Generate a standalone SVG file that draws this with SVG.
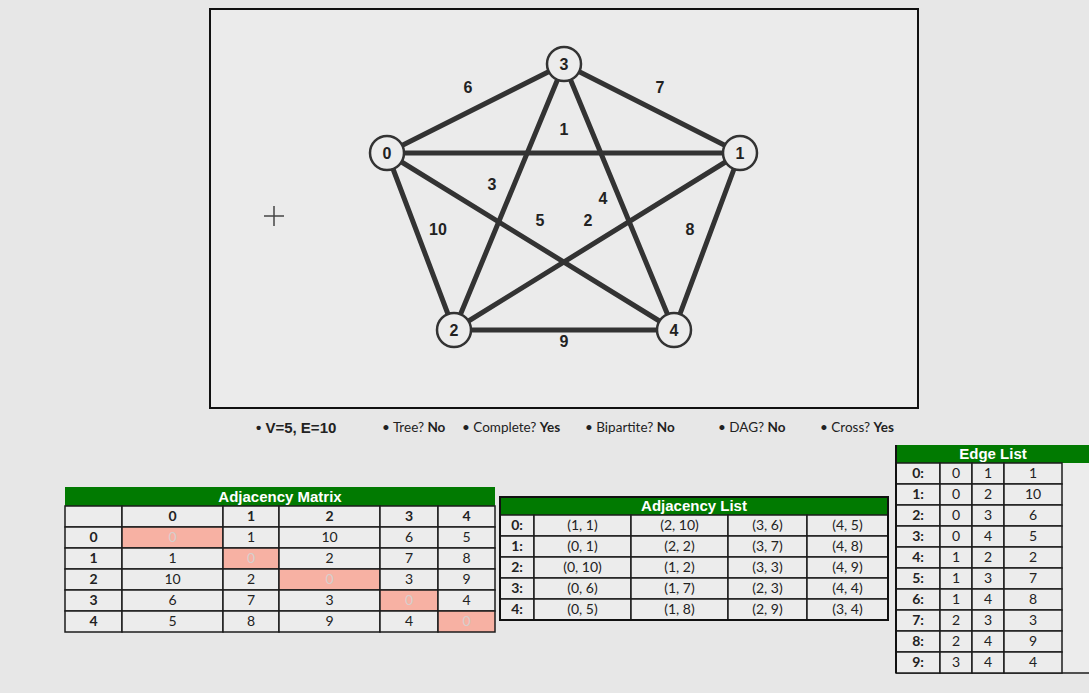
<svg xmlns="http://www.w3.org/2000/svg" width="1089" height="693" viewBox="0 0 1089 693">
<style>
.bg{fill:#e7e7e7}
.edge{stroke:#333;stroke-width:5;stroke-linecap:round}
.node circle{fill:#ececec;stroke:#333;stroke-width:2.5}
.nl{font-family:"Liberation Sans",Arial,sans-serif;font-weight:bold;font-size:16px;fill:#222;text-anchor:middle}
.el{font-family:"Liberation Sans",Arial,sans-serif;font-weight:bold;font-size:16px;fill:#222;text-anchor:middle}
.st{font-family:Lato,"Open Sans",sans-serif;font-size:13.5px;fill:#222}
.stb{font-weight:bold}
.big{font-family:"Liberation Sans",Arial,sans-serif;font-size:15px;font-weight:bold;fill:#222}
.cell{fill:#ececec;stroke:#1c1c1c;stroke-width:1.5}
.diag{fill:#f7b1a3;stroke:#1c1c1c;stroke-width:1.5}
.hdr{fill:#017a01}
.ht{font-family:"Liberation Sans",Arial,sans-serif;font-weight:bold;font-size:15px;fill:#fff;text-anchor:middle}
.ct{font-family:Lato,"Open Sans",sans-serif;font-size:14px;fill:#222;text-anchor:middle}
.cb{font-family:Lato,"Open Sans",sans-serif;font-size:14px;font-weight:bold;fill:#222;text-anchor:middle}
.dz{font-family:Lato,"Open Sans",sans-serif;font-size:14px;fill:#d6cfcd;text-anchor:middle}
.outer{fill:none;stroke:#111;stroke-width:2}
</style>
<rect class="bg" x="0" y="0" width="1089" height="693"/>
<rect x="210" y="9" width="708" height="399" fill="#ebebeb" stroke="#111" stroke-width="2"/>
<g id="crosshair" stroke="#444" stroke-width="1.5">
<line x1="264" y1="216" x2="284" y2="216"/><line x1="274" y1="206" x2="274" y2="226"/>
</g>
<g id="connectors">
<line class="edge" x1="387" y1="153" x2="564" y2="64"/>
<line class="edge" x1="564" y1="64" x2="740" y2="153"/>
<line class="edge" x1="387" y1="153" x2="740" y2="153"/>
<line class="edge" x1="387" y1="153" x2="454" y2="330"/>
<line class="edge" x1="387" y1="153" x2="674" y2="330"/>
<line class="edge" x1="564" y1="64" x2="454" y2="330"/>
<line class="edge" x1="564" y1="64" x2="674" y2="330"/>
<line class="edge" x1="740" y1="153" x2="454" y2="330"/>
<line class="edge" x1="740" y1="153" x2="674" y2="330"/>
<line class="edge" x1="454" y1="330" x2="674" y2="330"/>
<text class="el" x="468" y="93">6</text>
<text class="el" x="660" y="93">7</text>
<text class="el" x="564" y="135">1</text>
<text class="el" x="492" y="190">3</text>
<text class="el" x="603" y="204">4</text>
<text class="el" x="540" y="226">5</text>
<text class="el" x="588" y="226">2</text>
<text class="el" x="438" y="235">10</text>
<text class="el" x="690" y="235">8</text>
<text class="el" x="564" y="347">9</text>
</g>
<g id="node0" class="node"><circle cx="387" cy="153" r="17"/><text class="nl" x="387" y="159">0</text></g>
<g id="node1" class="node"><circle cx="740" cy="153" r="17"/><text class="nl" x="740" y="159">1</text></g>
<g id="node2" class="node"><circle cx="454" cy="330" r="17"/><text class="nl" x="454" y="336">2</text></g>
<g id="node3" class="node"><circle cx="564" cy="64" r="17"/><text class="nl" x="564" y="70">3</text></g>
<g id="node4" class="node"><circle cx="674" cy="330" r="17"/><text class="nl" x="674" y="336">4</text></g>
<g id="stats">
<text class="big" x="256" y="433">• V=5, E=10</text>
<text class="st" x="382" y="432">• Tree? <tspan class="stb">No</tspan></text>
<text class="st" x="462" y="432">• Complete? <tspan class="stb">Yes</tspan></text>
<text class="st" x="585" y="432">• Bipartite? <tspan class="stb">No</tspan></text>
<text class="st" x="718" y="432">• DAG? <tspan class="stb">No</tspan></text>
<text class="st" x="820" y="432">• Cross? <tspan class="stb">Yes</tspan></text>
</g>
<g id="adjacency-matrix">
<rect class="hdr" x="65" y="487" width="430" height="19"/>
<text class="ht" x="280" y="502">Adjacency Matrix</text>
<g>
<rect class="cell" x="65" y="506" width="57" height="21"/><rect class="cell" x="122" y="506" width="101" height="21"/><rect class="cell" x="223" y="506" width="56" height="21"/><rect class="cell" x="279" y="506" width="101" height="21"/><rect class="cell" x="380" y="506" width="58" height="21"/><rect class="cell" x="438" y="506" width="57" height="21"/>
<text class="cb" x="172.5" y="521">0</text><text class="cb" x="251" y="521">1</text><text class="cb" x="329.5" y="521">2</text><text class="cb" x="409" y="521">3</text><text class="cb" x="466.5" y="521">4</text>
</g>
<g>
<rect class="cell" x="65" y="527" width="57" height="21"/><rect class="diag" x="122" y="527" width="101" height="21"/><rect class="cell" x="223" y="527" width="56" height="21"/><rect class="cell" x="279" y="527" width="101" height="21"/><rect class="cell" x="380" y="527" width="58" height="21"/><rect class="cell" x="438" y="527" width="57" height="21"/>
<text class="cb" x="93.5" y="542">0</text><text class="dz" x="172.5" y="542">0</text><text class="ct" x="251" y="542">1</text><text class="ct" x="329.5" y="542">10</text><text class="ct" x="409" y="542">6</text><text class="ct" x="466.5" y="542">5</text>
</g>
<g>
<rect class="cell" x="65" y="548" width="57" height="21"/><rect class="cell" x="122" y="548" width="101" height="21"/><rect class="diag" x="223" y="548" width="56" height="21"/><rect class="cell" x="279" y="548" width="101" height="21"/><rect class="cell" x="380" y="548" width="58" height="21"/><rect class="cell" x="438" y="548" width="57" height="21"/>
<text class="cb" x="93.5" y="563">1</text><text class="ct" x="172.5" y="563">1</text><text class="dz" x="251" y="563">0</text><text class="ct" x="329.5" y="563">2</text><text class="ct" x="409" y="563">7</text><text class="ct" x="466.5" y="563">8</text>
</g>
<g>
<rect class="cell" x="65" y="569" width="57" height="21"/><rect class="cell" x="122" y="569" width="101" height="21"/><rect class="cell" x="223" y="569" width="56" height="21"/><rect class="diag" x="279" y="569" width="101" height="21"/><rect class="cell" x="380" y="569" width="58" height="21"/><rect class="cell" x="438" y="569" width="57" height="21"/>
<text class="cb" x="93.5" y="584">2</text><text class="ct" x="172.5" y="584">10</text><text class="ct" x="251" y="584">2</text><text class="dz" x="329.5" y="584">0</text><text class="ct" x="409" y="584">3</text><text class="ct" x="466.5" y="584">9</text>
</g>
<g>
<rect class="cell" x="65" y="590" width="57" height="21"/><rect class="cell" x="122" y="590" width="101" height="21"/><rect class="cell" x="223" y="590" width="56" height="21"/><rect class="cell" x="279" y="590" width="101" height="21"/><rect class="diag" x="380" y="590" width="58" height="21"/><rect class="cell" x="438" y="590" width="57" height="21"/>
<text class="cb" x="93.5" y="605">3</text><text class="ct" x="172.5" y="605">6</text><text class="ct" x="251" y="605">7</text><text class="ct" x="329.5" y="605">3</text><text class="dz" x="409" y="605">0</text><text class="ct" x="466.5" y="605">4</text>
</g>
<g>
<rect class="cell" x="65" y="611" width="57" height="21"/><rect class="cell" x="122" y="611" width="101" height="21"/><rect class="cell" x="223" y="611" width="56" height="21"/><rect class="cell" x="279" y="611" width="101" height="21"/><rect class="cell" x="380" y="611" width="58" height="21"/><rect class="diag" x="438" y="611" width="57" height="21"/>
<text class="cb" x="93.5" y="626">4</text><text class="ct" x="172.5" y="626">5</text><text class="ct" x="251" y="626">8</text><text class="ct" x="329.5" y="626">9</text><text class="ct" x="409" y="626">4</text><text class="dz" x="466.5" y="626">0</text>
</g>
</g>
<g id="adjacency-list">
<rect class="hdr" x="500" y="497" width="388" height="18"/>
<text class="ht" x="694" y="511">Adjacency List</text>
<g>
<rect class="cell" x="500" y="515" width="34" height="21"/><rect class="cell" x="534" y="515" width="97" height="21"/><rect class="cell" x="631" y="515" width="97" height="21"/><rect class="cell" x="728" y="515" width="79" height="21"/><rect class="cell" x="807" y="515" width="81" height="21"/>
<text class="cb" x="517" y="530">0:</text><text class="ct" x="582.5" y="530">(1, 1)</text><text class="ct" x="679.5" y="530">(2, 10)</text><text class="ct" x="767.5" y="530">(3, 6)</text><text class="ct" x="847.5" y="530">(4, 5)</text>
</g>
<g>
<rect class="cell" x="500" y="536" width="34" height="21"/><rect class="cell" x="534" y="536" width="97" height="21"/><rect class="cell" x="631" y="536" width="97" height="21"/><rect class="cell" x="728" y="536" width="79" height="21"/><rect class="cell" x="807" y="536" width="81" height="21"/>
<text class="cb" x="517" y="551">1:</text><text class="ct" x="582.5" y="551">(0, 1)</text><text class="ct" x="679.5" y="551">(2, 2)</text><text class="ct" x="767.5" y="551">(3, 7)</text><text class="ct" x="847.5" y="551">(4, 8)</text>
</g>
<g>
<rect class="cell" x="500" y="557" width="34" height="21"/><rect class="cell" x="534" y="557" width="97" height="21"/><rect class="cell" x="631" y="557" width="97" height="21"/><rect class="cell" x="728" y="557" width="79" height="21"/><rect class="cell" x="807" y="557" width="81" height="21"/>
<text class="cb" x="517" y="572">2:</text><text class="ct" x="582.5" y="572">(0, 10)</text><text class="ct" x="679.5" y="572">(1, 2)</text><text class="ct" x="767.5" y="572">(3, 3)</text><text class="ct" x="847.5" y="572">(4, 9)</text>
</g>
<g>
<rect class="cell" x="500" y="578" width="34" height="21"/><rect class="cell" x="534" y="578" width="97" height="21"/><rect class="cell" x="631" y="578" width="97" height="21"/><rect class="cell" x="728" y="578" width="79" height="21"/><rect class="cell" x="807" y="578" width="81" height="21"/>
<text class="cb" x="517" y="593">3:</text><text class="ct" x="582.5" y="593">(0, 6)</text><text class="ct" x="679.5" y="593">(1, 7)</text><text class="ct" x="767.5" y="593">(2, 3)</text><text class="ct" x="847.5" y="593">(4, 4)</text>
</g>
<g>
<rect class="cell" x="500" y="599" width="34" height="21"/><rect class="cell" x="534" y="599" width="97" height="21"/><rect class="cell" x="631" y="599" width="97" height="21"/><rect class="cell" x="728" y="599" width="79" height="21"/><rect class="cell" x="807" y="599" width="81" height="21"/>
<text class="cb" x="517" y="614">4:</text><text class="ct" x="582.5" y="614">(0, 5)</text><text class="ct" x="679.5" y="614">(1, 8)</text><text class="ct" x="767.5" y="614">(2, 9)</text><text class="ct" x="847.5" y="614">(3, 4)</text>
</g>
<rect class="outer" x="500" y="497" width="388" height="123"/>
</g>
<g id="edge-list">
<rect class="hdr" x="896" y="445" width="193" height="18"/>
<text class="ht" x="993" y="459">Edge List</text>
<rect x="1062" y="463" width="27" height="210" fill="#ececec"/>
<line x1="896" y1="673" x2="1089" y2="673" stroke="#1c1c1c" stroke-width="1.5"/>
<g><rect class="cell" x="896" y="463" width="44" height="21"/><rect class="cell" x="940" y="463" width="32" height="21"/><rect class="cell" x="972" y="463" width="32" height="21"/><rect class="cell" x="1004" y="463" width="58" height="21"/>
<text class="cb" x="918" y="478">0:</text><text class="ct" x="956" y="478">0</text><text class="ct" x="988" y="478">1</text><text class="ct" x="1033" y="478">1</text></g>
<g><rect class="cell" x="896" y="484" width="44" height="21"/><rect class="cell" x="940" y="484" width="32" height="21"/><rect class="cell" x="972" y="484" width="32" height="21"/><rect class="cell" x="1004" y="484" width="58" height="21"/>
<text class="cb" x="918" y="499">1:</text><text class="ct" x="956" y="499">0</text><text class="ct" x="988" y="499">2</text><text class="ct" x="1033" y="499">10</text></g>
<g><rect class="cell" x="896" y="505" width="44" height="21"/><rect class="cell" x="940" y="505" width="32" height="21"/><rect class="cell" x="972" y="505" width="32" height="21"/><rect class="cell" x="1004" y="505" width="58" height="21"/>
<text class="cb" x="918" y="520">2:</text><text class="ct" x="956" y="520">0</text><text class="ct" x="988" y="520">3</text><text class="ct" x="1033" y="520">6</text></g>
<g><rect class="cell" x="896" y="526" width="44" height="21"/><rect class="cell" x="940" y="526" width="32" height="21"/><rect class="cell" x="972" y="526" width="32" height="21"/><rect class="cell" x="1004" y="526" width="58" height="21"/>
<text class="cb" x="918" y="541">3:</text><text class="ct" x="956" y="541">0</text><text class="ct" x="988" y="541">4</text><text class="ct" x="1033" y="541">5</text></g>
<g><rect class="cell" x="896" y="547" width="44" height="21"/><rect class="cell" x="940" y="547" width="32" height="21"/><rect class="cell" x="972" y="547" width="32" height="21"/><rect class="cell" x="1004" y="547" width="58" height="21"/>
<text class="cb" x="918" y="562">4:</text><text class="ct" x="956" y="562">1</text><text class="ct" x="988" y="562">2</text><text class="ct" x="1033" y="562">2</text></g>
<g><rect class="cell" x="896" y="568" width="44" height="21"/><rect class="cell" x="940" y="568" width="32" height="21"/><rect class="cell" x="972" y="568" width="32" height="21"/><rect class="cell" x="1004" y="568" width="58" height="21"/>
<text class="cb" x="918" y="583">5:</text><text class="ct" x="956" y="583">1</text><text class="ct" x="988" y="583">3</text><text class="ct" x="1033" y="583">7</text></g>
<g><rect class="cell" x="896" y="589" width="44" height="21"/><rect class="cell" x="940" y="589" width="32" height="21"/><rect class="cell" x="972" y="589" width="32" height="21"/><rect class="cell" x="1004" y="589" width="58" height="21"/>
<text class="cb" x="918" y="604">6:</text><text class="ct" x="956" y="604">1</text><text class="ct" x="988" y="604">4</text><text class="ct" x="1033" y="604">8</text></g>
<g><rect class="cell" x="896" y="610" width="44" height="21"/><rect class="cell" x="940" y="610" width="32" height="21"/><rect class="cell" x="972" y="610" width="32" height="21"/><rect class="cell" x="1004" y="610" width="58" height="21"/>
<text class="cb" x="918" y="625">7:</text><text class="ct" x="956" y="625">2</text><text class="ct" x="988" y="625">3</text><text class="ct" x="1033" y="625">3</text></g>
<g><rect class="cell" x="896" y="631" width="44" height="21"/><rect class="cell" x="940" y="631" width="32" height="21"/><rect class="cell" x="972" y="631" width="32" height="21"/><rect class="cell" x="1004" y="631" width="58" height="21"/>
<text class="cb" x="918" y="646">8:</text><text class="ct" x="956" y="646">2</text><text class="ct" x="988" y="646">4</text><text class="ct" x="1033" y="646">9</text></g>
<g><rect class="cell" x="896" y="652" width="44" height="21"/><rect class="cell" x="940" y="652" width="32" height="21"/><rect class="cell" x="972" y="652" width="32" height="21"/><rect class="cell" x="1004" y="652" width="58" height="21"/>
<text class="cb" x="918" y="667">9:</text><text class="ct" x="956" y="667">3</text><text class="ct" x="988" y="667">4</text><text class="ct" x="1033" y="667">4</text></g>
<line x1="896" y1="445" x2="896" y2="673" stroke="#111" stroke-width="2"/>
</g>
</svg>
